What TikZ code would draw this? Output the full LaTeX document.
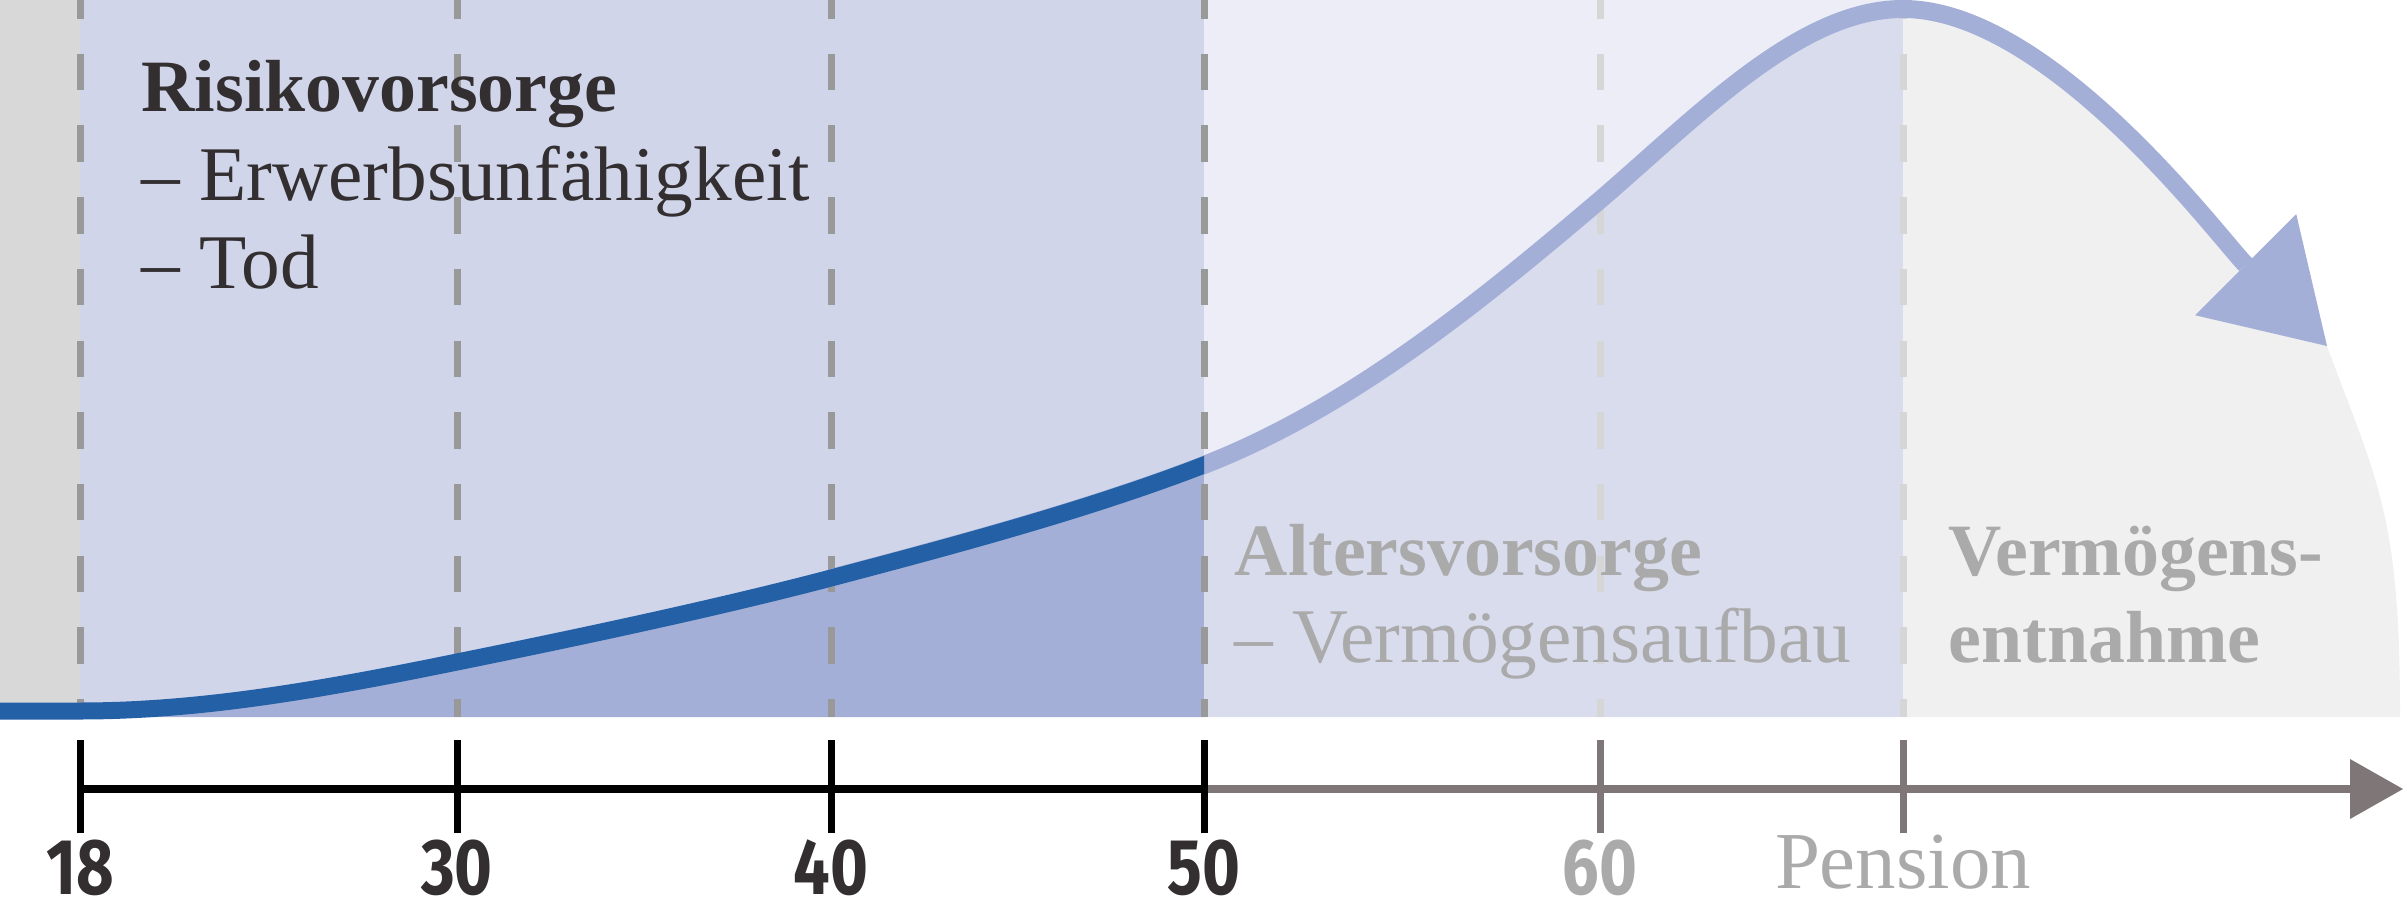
\documentclass[tikz,border=0pt]{standalone}
\usepackage{fontspec}
\setmainfont{Liberation Serif}
\newfontfamily\axisfont{Fira Sans}
\usepackage{graphicx}
\usetikzlibrary{arrows.meta}
\definecolor{stripgray}{RGB}{216,216,216}
\definecolor{bandblue}{RGB}{208,213,234}
\definecolor{fillblue}{RGB}{163,175,215}
\definecolor{paleblue}{RGB}{236,237,246}
\definecolor{softblue}{RGB}{216,220,237}
\definecolor{restgray}{RGB}{240,240,240}
\definecolor{curveblue}{RGB}{36,96,166}
\definecolor{dashgray}{RGB}{153,153,153}
\definecolor{dashlight}{RGB}{214,214,214}
\definecolor{axisgray}{RGB}{127,119,119}
\definecolor{textdark}{RGB}{51,47,49}
\definecolor{textgray}{RGB}{170,170,170}

\tikzset{
  ageline/.style={dashgray, line width=0.07cm, dash pattern=on 0.365cm off 0.352cm, dash phase=0.18cm},
  tickmark/.style={line width=0.07cm},
  headtext/.style={anchor=base west, inner sep=0pt, font=\bfseries\fontsize{21}{25}\selectfont},
  listtext/.style={anchor=base west, inner sep=0pt, font=\fontsize{22}{26}\selectfont},
  agelabel/.style={anchor=base, inner sep=0pt, text depth=0pt, text=textdark, font=\axisfont\bfseries\fontsize{22.5}{27}\selectfont}
}

\begin{document}
\begin{tikzpicture}
    \useasboundingbox (0,0) rectangle (24.07,9.14);

    \fill[stripgray] (0,1.97) rectangle (0.80,9.14);
    \fill[bandblue] (0.80,1.97) rectangle (12.04,9.14);
    \fill[paleblue] (12.04,1.97) rectangle (19.03,9.14);

    \fill[fillblue] (0.80,1.97) -- (0.80,2.03) .. controls (2.0,2.03) and (3.2,2.24) .. (4.57,2.52)
        .. controls (6.2,2.85) and (7.4,3.12) .. (8.31,3.36)
        .. controls (9.6,3.70) and (10.9,4.05) .. (12.04,4.49) -- (12.04,1.97) -- cycle;
    \fill[softblue] (12.04,1.97) -- (12.04,4.49) .. controls (13.5,5.06) and (14.8,6.12) .. (16.0,7.14)
        .. controls (17.0,8.0) and (18.0,9.05) .. (19.03,9.05) -- (19.03,1.97) -- cycle;
    \fill[restgray] (19.03,1.97) -- (19.03,9.05) .. controls (20.5,9.05) and (22.2,6.75) .. (23.27,5.68)
        .. controls (23.78,4.3) and (24.0,4.0) .. (24.0,1.97) -- cycle;

    \foreach \x in {0.80,4.57,8.31,12.04}
        \draw[ageline] (\x,9.14) -- (\x,1.97);
    \foreach \x in {16.00,19.03}
        \draw[ageline,dashlight] (\x,9.14) -- (\x,1.97);

    \draw[fillblue, line width=0.18cm, -{Triangle[length=1.15cm,width=1.43cm,line width=0pt]}]
        (8.31,3.36) .. controls (9.6,3.70) and (10.9,4.05) .. (12.04,4.49)
        .. controls (13.5,5.06) and (14.8,6.12) .. (16.0,7.14)
        .. controls (17.0,8.0) and (18.0,9.05) .. (19.03,9.05)
        .. controls (20.5,9.05) and (22.2,6.75) .. (23.27,5.68);
    \begin{scope}
        \clip (0,0) rectangle (12.04,9.14);
        \draw[curveblue, line width=0.17cm] (0,2.03) -- (0.80,2.03)
            .. controls (2.0,2.03) and (3.2,2.24) .. (4.57,2.52)
            .. controls (6.2,2.85) and (7.4,3.12) .. (8.31,3.36)
            .. controls (9.6,3.70) and (10.9,4.05) .. (12.04,4.49)
            .. controls (13.5,5.06) and (14.8,6.12) .. (16.0,7.14);
    \end{scope}

    \draw[line width=0.08cm] (0.80,1.25) -- (12.04,1.25);
    \draw[axisgray, line width=0.08cm, -{Triangle[length=0.53cm,width=0.6cm,line width=0pt]}] (12.04,1.25) -- (24.03,1.25);
    \foreach \x/\lab in {0.80/18,4.57/30,8.31/40,12.04/50} {
        \draw[tickmark] (\x,0.81) -- (\x,1.74);
        \node[agelabel] (age\lab) at (\x,0.20) {\scalebox{0.82}[1]{\lab}};
    }
    \draw[tickmark,axisgray] (16.00,0.81) -- (16.00,1.74);
    \draw[tickmark,axisgray] (19.03,0.81) -- (19.03,1.74);
    \node[agelabel,text=textgray] (age60) at (16.00,0.20) {\scalebox{0.82}[1]{60}};
    \node[anchor=base, inner sep=0pt, text=textgray, font=\fontsize{23}{27}\selectfont] (pension) at (19.03,0.26) {Pension};

    \node[headtext,text=textdark] (risk) at (1.41,8.02) {Risikovorsorge};
    \node[listtext,text=textdark] (riskjob) at (1.41,7.14) {– Erwerbsunfähigkeit};
    \node[listtext,text=textdark] (riskdeath) at (1.41,6.26) {– Tod};

    \node[headtext,text=textgray] (old) at (12.34,3.39) {Altersvorsorge};
    \node[listtext,text=textgray] (oldbuild) at (12.34,2.52) {– Vermögensaufbau};

    \node[headtext,text=textgray] (draw) at (19.48,3.39) {Vermögens-};
    \node[headtext,text=textgray] (drawtwo) at (19.48,2.52) {entnahme};
\end{tikzpicture}
\end{document}
